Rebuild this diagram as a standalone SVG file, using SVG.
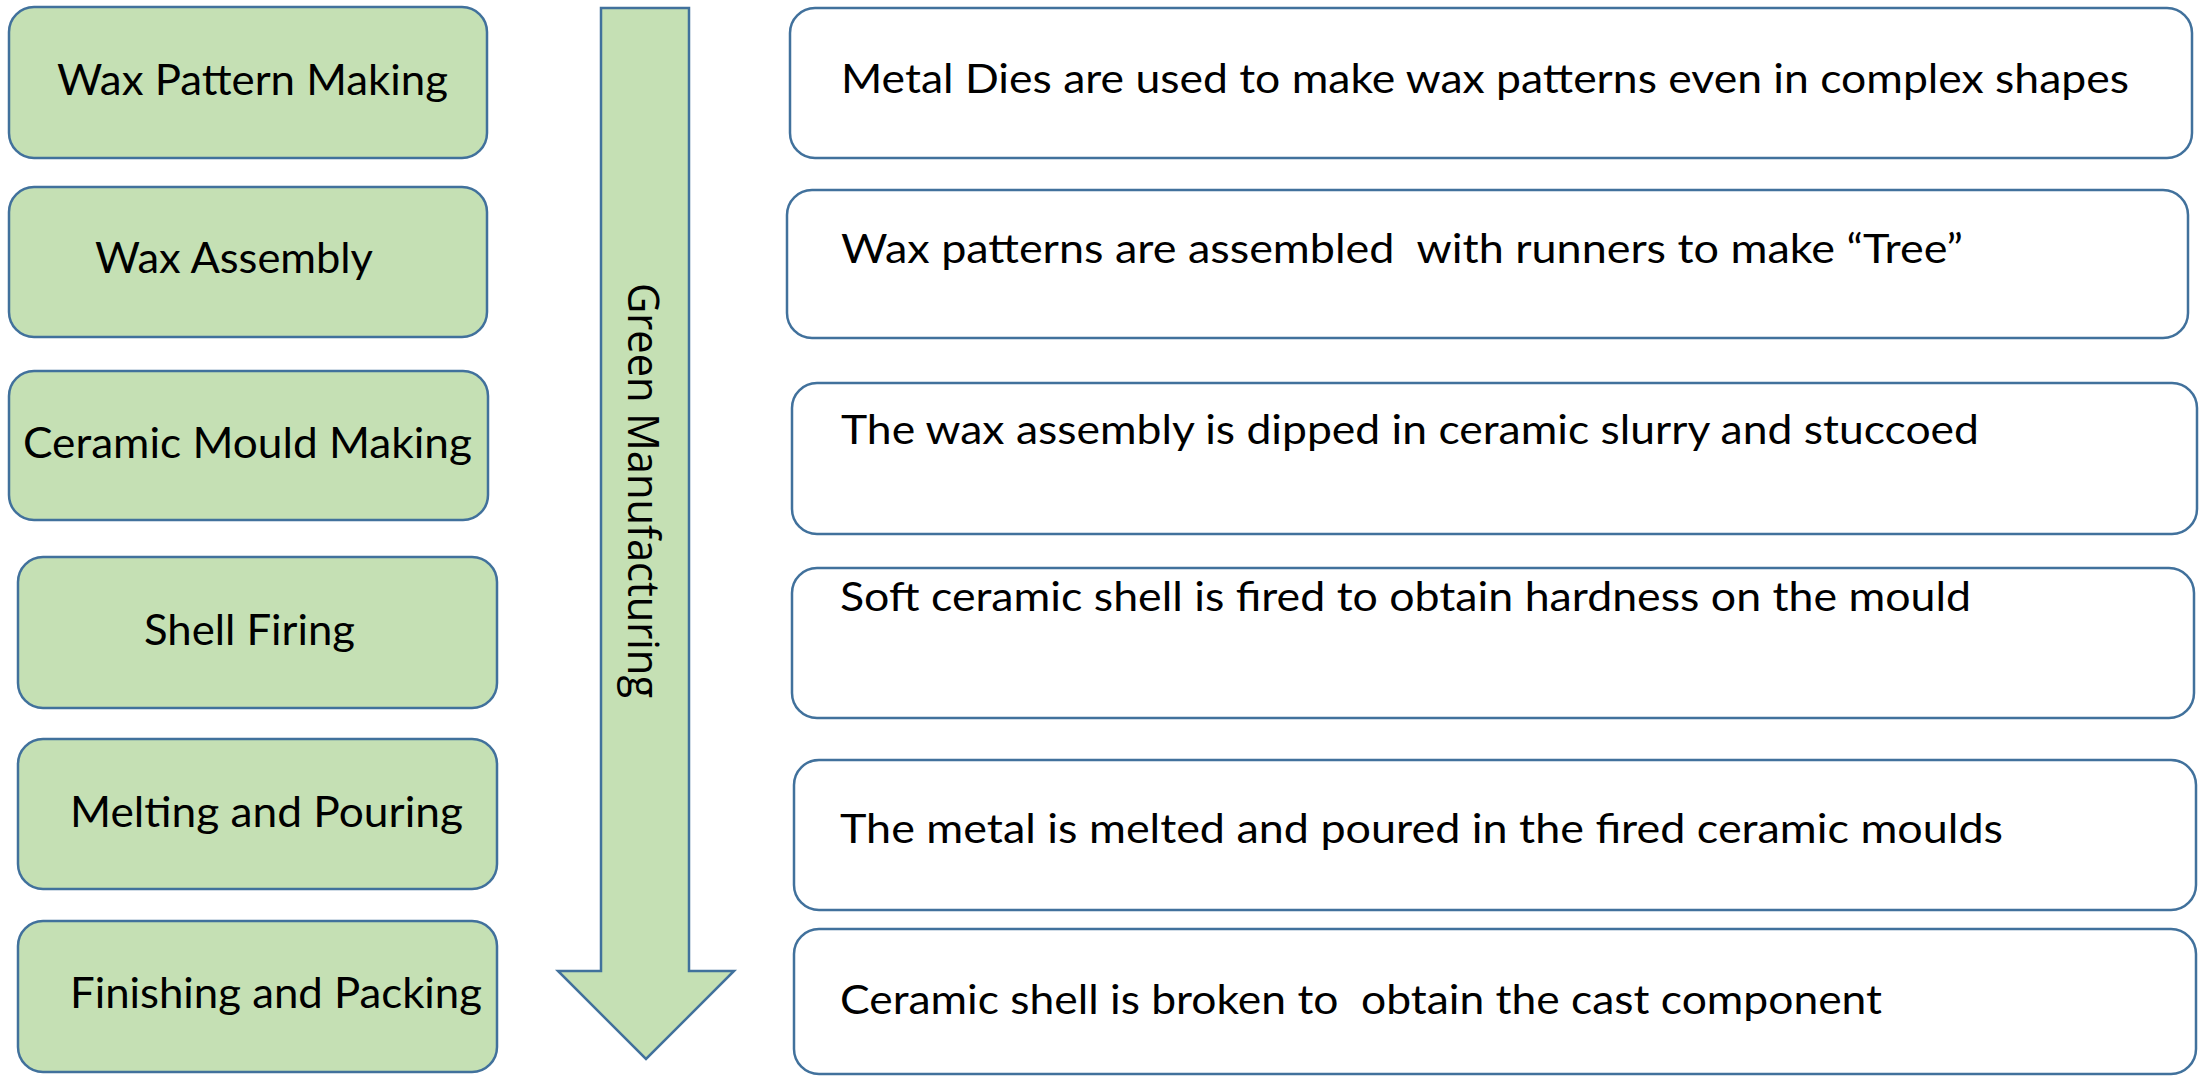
<svg xmlns="http://www.w3.org/2000/svg" width="2201" height="1076" viewBox="0 0 2201 1076">
<style>
.step{fill:#C5E0B4;stroke:#41719C;stroke-width:2.5}
.desc{fill:#FFFFFF;stroke:#41719C;stroke-width:2.5}
.lt{font-family:Lato,"Liberation Sans",sans-serif;font-size:42px;fill:#000}
.rt{font-family:Lato,"Liberation Sans",sans-serif;font-size:41px;fill:#000;white-space:pre}
.gm{font-family:"Open Sans","Liberation Sans",sans-serif;font-size:44px;fill:#000}
</style>
<rect width="2201" height="1076" fill="#FFFFFF"/>
<g id="connectors">
<g id="green-manufacturing-arrow">
<polygon points="601,8 689,8 689,971 734,971 646,1059 558,971 601,971" fill="#C5E0B4" stroke="#41719C" stroke-width="2.5" stroke-linejoin="miter"/>
<text class="gm" transform="translate(628,490.5) rotate(90)" text-anchor="middle" textLength="415" lengthAdjust="spacingAndGlyphs">Green Manufacturing</text>
</g>
</g>
<g id="step-wax-pattern-making"><rect class="step" x="9" y="7" width="478" height="151" rx="25"/><text class="lt" x="57" y="95" textLength="391" lengthAdjust="spacingAndGlyphs">Wax Pattern Making</text></g>
<g id="step-wax-assembly"><rect class="step" x="9" y="187" width="478" height="150" rx="25"/><text class="lt" x="95" y="273" textLength="278" lengthAdjust="spacingAndGlyphs">Wax Assembly</text></g>
<g id="step-ceramic-mould-making"><rect class="step" x="9" y="371" width="479" height="149" rx="25"/><text class="lt" x="23" y="458" textLength="449" lengthAdjust="spacingAndGlyphs">Ceramic Mould Making</text></g>
<g id="step-shell-firing"><rect class="step" x="18" y="557" width="479" height="151" rx="25"/><text class="lt" x="144" y="645" textLength="211" lengthAdjust="spacingAndGlyphs">Shell Firing</text></g>
<g id="step-melting-pouring"><rect class="step" x="18" y="739" width="479" height="150" rx="25"/><text class="lt" x="70" y="827" textLength="393" lengthAdjust="spacingAndGlyphs">Melting and Pouring</text></g>
<g id="step-finishing-packing"><rect class="step" x="18" y="921" width="479" height="151" rx="25"/><text class="lt" x="70" y="1008" textLength="412" lengthAdjust="spacingAndGlyphs">Finishing and Packing</text></g>
<g id="desc-1"><rect class="desc" x="790" y="8" width="1402" height="150" rx="25"/><text class="rt" x="841" y="93" textLength="1288" lengthAdjust="spacingAndGlyphs">Metal Dies are used to make wax patterns even in complex shapes</text></g>
<g id="desc-2"><rect class="desc" x="787" y="190" width="1401" height="148" rx="25"/><text class="rt" x="841" y="263" textLength="1122" lengthAdjust="spacingAndGlyphs" xml:space="preserve">Wax patterns are assembled  with runners to make “Tree”</text></g>
<g id="desc-3"><rect class="desc" x="792" y="383" width="1405" height="151" rx="25"/><text class="rt" x="841" y="444" textLength="1138" lengthAdjust="spacingAndGlyphs">The wax assembly is dipped in ceramic slurry and stuccoed</text></g>
<g id="desc-4"><rect class="desc" x="792" y="568" width="1402" height="150" rx="25"/><text class="rt" x="840" y="611" textLength="1131" lengthAdjust="spacingAndGlyphs">Soft ceramic shell is fired to obtain hardness on the mould</text></g>
<g id="desc-5"><rect class="desc" x="794" y="760" width="1402" height="150" rx="25"/><text class="rt" x="840" y="843" textLength="1163" lengthAdjust="spacingAndGlyphs">The metal is melted and poured in the fired ceramic moulds</text></g>
<g id="desc-6"><rect class="desc" x="794" y="929" width="1402" height="145" rx="25"/><text class="rt" x="840" y="1014" textLength="1042" lengthAdjust="spacingAndGlyphs" xml:space="preserve">Ceramic shell is broken to  obtain the cast component</text></g>
</svg>
